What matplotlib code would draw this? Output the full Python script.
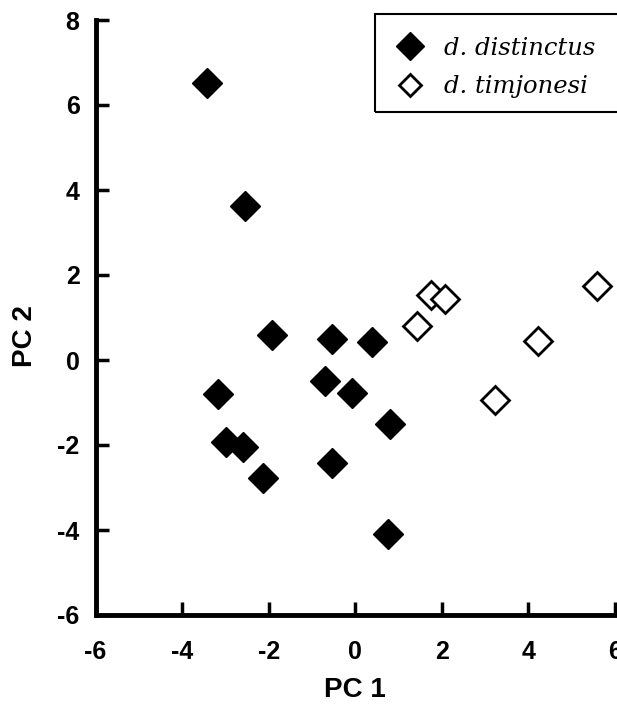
import matplotlib
matplotlib.use("Agg")
import matplotlib.pyplot as plt
from matplotlib.font_manager import FontProperties
from matplotlib.patches import Rectangle

plt.rcParams['font.family'] = ['Liberation Sans', 'DejaVu Sans']

# Data
series_names = ["d. distinctus", "d. timjonesi"]
distinctus_pc1 = [-3.43, -2.55, -1.92, -0.54, 0.39, -3.18, -0.69, -0.08, 0.81,
                  -2.99, -2.60, -0.54, -2.14, 0.75]
distinctus_pc2 = [6.52, 3.62, 0.60, 0.49, 0.43, -0.81, -0.50, -0.77, -1.51,
                  -1.92, -2.04, -2.42, -2.78, -4.10]
timjonesi_pc1 = [1.74, 2.07, 1.43, 5.58, 4.23, 3.22]
timjonesi_pc2 = [1.53, 1.43, 0.80, 1.75, 0.45, -0.94]
x_ticks = [-6, -4, -2, 0, 2, 4, 6]
y_ticks = [-6, -4, -2, 0, 2, 4, 6, 8]
x_label = "PC 1"
y_label = "PC 2"

W, H = 617, 709
fig = plt.figure(figsize=(W / 100, H / 100), dpi=100)
ax = fig.add_axes([95.5 / W, 94 / H, 519.5 / W, 595 / H])

l1, = ax.plot(distinctus_pc1, distinctus_pc2, linestyle='none', marker='D',
              ms=15.5, mfc='black', mec='black', mew=1.0)
l2, = ax.plot(timjonesi_pc1, timjonesi_pc2, linestyle='none', marker='D',
              ms=14.0, mfc='white', mec='black', mew=2.0)

ax.set_xlim(-6, 6)
ax.set_ylim(-6, 8)
ax.set_xticks(x_ticks)
ax.set_yticks(y_ticks)
ax.set_xticklabels([str(v) for v in x_ticks])
ax.set_yticklabels([str(v) for v in y_ticks])

for s in ['top', 'right']:
    ax.spines[s].set_visible(False)
for s in ['left', 'bottom']:
    ax.spines[s].set_linewidth(3.5)
    ax.spines[s].set_capstyle('projecting')

ax.tick_params(axis='both', direction='in', length=9.5, width=2.5,
               labelsize=18, color='black')
ax.tick_params(axis='x', pad=18)
ax.tick_params(axis='y', pad=11.5)
for lab in ax.get_xticklabels() + ax.get_yticklabels():
    lab.set_fontweight('bold')

fig.text(355 / W, 1 - 690 / H, x_label, ha='center', va='center',
         fontsize=20, fontweight='bold')
fig.text(25 / W, 1 - 336 / H, y_label, ha='center', va='center',
         fontsize=20, fontweight='bold', rotation=90)

# legend frame (box runs past the right edge, as in the reference)
fig.patches.append(Rectangle((375 / W, 1 - 112 / H), (660 - 375) / W, (112 - 14) / H,
                             transform=fig.transFigure, fill=False,
                             edgecolor='black', linewidth=1.5))

top = 1 - 37 / H
leg = ax.legend(handles=[l1, l2], labels=series_names, loc='upper left',
                bbox_to_anchor=(388.5 / W, top),
                bbox_transform=fig.transFigure,
                borderaxespad=0, frameon=False,
                prop=FontProperties(family='DejaVu Serif', style='italic', size=17.5),
                handlelength=1.78, handletextpad=0.52, borderpad=0,
                labelspacing=0.62)
hs = leg.legend_handles
hs[0].set_markersize(14.5)
hs[1].set_markersize(11.5)

fig.savefig("out.png", dpi=100)
